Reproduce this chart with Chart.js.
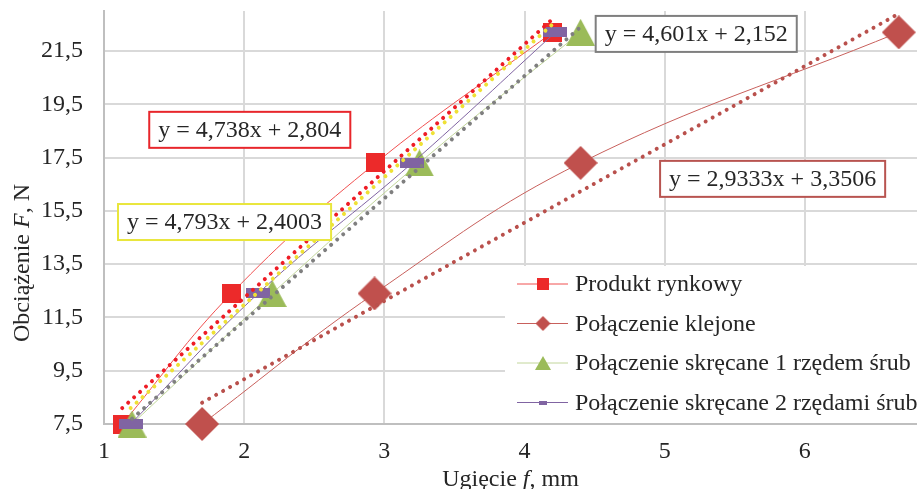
<!DOCTYPE html>
<html>
<head>
<meta charset="utf-8">
<script src="https://cdn.jsdelivr.net/npm/chart.js@4"></script>
<style>
    html, body { margin: 0; padding: 0; background: #fff; }
    #wrap { width: 917px; height: 489px; }
</style>
</head>
<body>
<div id="wrap"><canvas id="chart"></canvas></div>
<script>
// tick labels
const xTicks = [1, 2, 3, 4, 5, 6];
const yTicks = [7.5, 9.5, 11.5, 13.5, 15.5, 17.5, 19.5, 21.5];

// series (x = deflection f [mm], y = load F [N])
const seriesNames = [
    'Produkt rynkowy',
    'Połączenie klejone',
    'Połączenie skręcane 1 rzędem śrub',
    'Połączenie skręcane 2 rzędami śrub'
];
const rynkowyX = [1.13, 1.91, 2.94, 4.20];
const rynkowyY = [7.5, 12.4, 17.3, 22.2];
const klejoneX = [1.70, 2.93, 4.40, 6.67];
const klejoneY = [7.5, 12.4, 17.3, 22.2];
const skr1X = [1.20, 2.20, 3.25, 4.40];
const skr1Y = [7.5, 12.4, 17.3, 22.2];
const skr2X = [1.19, 2.10, 3.20, 4.22];
const skr2Y = [7.5, 12.4, 17.3, 22.2];

// linear trendlines (start / end)
const trendRynkowyX = [1.13, 4.20];
const trendRynkowyY = [8.1, 22.7];
const trendKlejoneX = [1.70, 6.67];
const trendKlejoneY = [8.3, 22.9];
const trendSkr1X = [1.20, 4.40];
const trendSkr1Y = [7.7, 22.4];
const trendSkr2X = [1.19, 4.22];
const trendSkr2Y = [8.1, 22.6];

const equations = [
    'y = 4,738x + 2,804',
    'y = 2,9333x + 3,3506',
    'y = 4,601x + 2,152',
    'y = 4,793x + 2,4003'
];

const FONT = "'Liberation Serif', 'Times New Roman', serif";
const TEXT = '#262626';

const toPoints = (xs, ys) => xs.map((x, i) => ({ x: x, y: ys[i] }));

function makeMarker(w, h, color, shape) {
    const c = document.createElement('canvas');
    c.width = w;
    c.height = h;
    const g = c.getContext('2d');
    g.fillStyle = color;
    g.beginPath();
    if (shape === 'triangle') {
        g.moveTo(w / 2, 0); g.lineTo(w, h); g.lineTo(0, h);
    } else if (shape === 'diamond') {
        g.moveTo(w / 2, 0); g.lineTo(w, h / 2); g.lineTo(w / 2, h); g.lineTo(0, h / 2);
    } else {
        g.rect(0, 0, w, h);
    }
    g.closePath();
    g.fill();
    return c;
}

const markerColors = ['#EC2A2A', '#C0504D', '#9BBB59', '#8064A2'];
const lineColors = ['#F05050', '#C8605C', '#C2D69B', '#8064A2'];
const trendColors = ['#EE1C25', '#B9504C', '#7F7F7F', '#EFE135'];
const eqBorders = ['#E8262B', '#B85450', '#7F7F7F', '#E9E63C'];

const bigMarkers = [
    makeMarker(19, 19, markerColors[0], 'rect'),
    makeMarker(34, 34, markerColors[1], 'diamond'),
    makeMarker(29, 27, markerColors[2], 'triangle'),
    makeMarker(24, 10, markerColors[3], 'rect')
];
const smallMarkers = [
    makeMarker(12, 12, markerColors[0], 'rect'),
    makeMarker(15, 15, markerColors[1], 'diamond'),
    makeMarker(16, 14, markerColors[2], 'triangle'),
    makeMarker(8, 4, markerColors[3], 'rect')
];

const seriesData = [
    toPoints(rynkowyX, rynkowyY),
    toPoints(klejoneX, klejoneY),
    toPoints(skr1X, skr1Y),
    toPoints(skr2X, skr2Y)
];
const trendData = [
    toPoints(trendRynkowyX, trendRynkowyY),
    toPoints(trendKlejoneX, trendKlejoneY),
    toPoints(trendSkr1X, trendSkr1Y),
    toPoints(trendSkr2X, trendSkr2Y)
];

const datasets = [];
seriesData.forEach((d, i) => {
    datasets.push({
        label: seriesNames[i],
        data: d,
        showLine: true,
        borderColor: lineColors[i],
        borderWidth: 1,
        tension: 0.4,
        pointStyle: bigMarkers[i],
        pointRadius: 10,
        pointHoverRadius: 10,
        clip: false,
        order: 20 - i
    });
});
trendData.forEach((d, i) => {
    datasets.push({
        label: 'trend ' + i,
        data: d,
        showLine: true,
        borderColor: trendColors[i],
        borderWidth: 4,
        borderDash: [0.01, 8],
        borderCapStyle: 'round',
        pointRadius: 0,
        tension: 0,
        order: 5 - i
    });
});

// equation boxes, anchored in data coordinates
const eqAnchors = [[2.04, 18.54], [5.77, 16.70], [5.225, 22.14], [1.86, 15.08]];

const extrasPlugin = {
    id: 'extras',
    afterDatasetsDraw(chart) {
        const ctx = chart.ctx;
        const xs = chart.scales.x;
        const ys = chart.scales.y;
        ctx.save();
        ctx.font = '24px ' + FONT;
        ctx.textBaseline = 'middle';
        ctx.textAlign = 'center';

        // trendline equations
        equations.forEach((t, i) => {
            const cx = xs.getPixelForValue(eqAnchors[i][0]);
            const cy = ys.getPixelForValue(eqAnchors[i][1]);
            const w = ctx.measureText(t).width + 18;
            const h = 36;
            ctx.fillStyle = '#fff';
            ctx.fillRect(cx - w / 2, cy - h / 2, w, h);
            ctx.strokeStyle = eqBorders[i];
            ctx.lineWidth = 2;
            ctx.strokeRect(cx - w / 2, cy - h / 2, w, h);
            ctx.fillStyle = TEXT;
            ctx.fillText(t, cx, cy + 1);
        });

        // legend
        const area = chart.chartArea;
        const lx = area.left + 401;
        const ly = area.top + 255;
        ctx.fillStyle = '#fff';
        ctx.fillRect(lx, ly, area.right - lx, area.bottom - ly - 1);
        ctx.textAlign = 'left';
        seriesNames.forEach((name, i) => {
            const y = ly + 18 + i * 39.5;
            ctx.strokeStyle = lineColors[i];
            ctx.lineWidth = 1;
            ctx.beginPath();
            ctx.moveTo(lx + 12, y);
            ctx.lineTo(lx + 63, y);
            ctx.stroke();
            const m = smallMarkers[i];
            ctx.drawImage(m, lx + 38 - m.width / 2, y - m.height / 2);
            ctx.fillStyle = TEXT;
            ctx.fillText(name, lx + 70, y + 1);
        });
        ctx.restore();
    },
    afterDraw(chart) {
        const ctx = chart.ctx;
        const area = chart.chartArea;
        const drawParts = (parts, startX, y) => {
            let x = startX;
            parts.forEach(p => {
                ctx.font = (p[1] ? 'italic ' : '') + '24px ' + FONT;
                ctx.fillText(p[0], x, y);
                x += ctx.measureText(p[0]).width;
            });
        };
        const widthOf = parts => parts.reduce((s, p) => {
            ctx.font = (p[1] ? 'italic ' : '') + '24px ' + FONT;
            return s + ctx.measureText(p[0]).width;
        }, 0);

        ctx.save();
        ctx.fillStyle = TEXT;
        ctx.textAlign = 'left';
        ctx.textBaseline = 'alphabetic';

        const xTitle = [['Ugięcie ', false], ['f', true], [', mm', false]];
        drawParts(xTitle, (area.left + area.right) / 2 - widthOf(xTitle) / 2, 486);

        const yTitle = [['Obciążenie ', false], ['F', true], [', N', false]];
        ctx.translate(29, 263);
        ctx.rotate(-Math.PI / 2);
        drawParts(yTitle, -widthOf(yTitle) / 2, 0);
        ctx.restore();
    }
};

new Chart(document.getElementById('chart').getContext('2d'), {
    type: 'scatter',
    data: { datasets: datasets },
    options: {
        responsive: true,
        maintainAspectRatio: false,
        animation: false,
        layout: {
            autoPadding: false,
            padding: { top: 11, right: 0, bottom: 0, left: 0 }
        },
        scales: {
            x: {
                type: 'linear',
                min: 1,
                max: 6.8,
                afterBuildTicks: s => { s.ticks = xTicks.map(v => ({ value: v })); },
                afterFit: s => { s.height = 65; s.paddingLeft = 0; s.paddingRight = 0; },
                grid: { color: '#D9D9D9', lineWidth: 2, drawTicks: false },
                border: { color: '#BFBFBF', width: 2 },
                ticks: {
                    color: TEXT,
                    padding: 13,
                    font: { family: FONT, size: 24 },
                    callback: v => String(v)
                }
            },
            y: {
                type: 'linear',
                min: 7.5,
                max: 23,
                afterBuildTicks: s => { s.ticks = yTicks.map(v => ({ value: v })); },
                afterFit: s => { s.width = 104; s.paddingTop = 0; s.paddingBottom = 0; },
                grid: { color: '#D9D9D9', lineWidth: 2, drawTicks: false },
                border: { color: '#BFBFBF', width: 2 },
                ticks: {
                    color: TEXT,
                    padding: 21,
                    font: { family: FONT, size: 24 },
                    callback: v => String(v).replace('.', ',')
                }
            }
        },
        plugins: {
            legend: { display: false },
            tooltip: { enabled: false }
        }
    },
    plugins: [extrasPlugin]
});
</script>
</body>
</html>
